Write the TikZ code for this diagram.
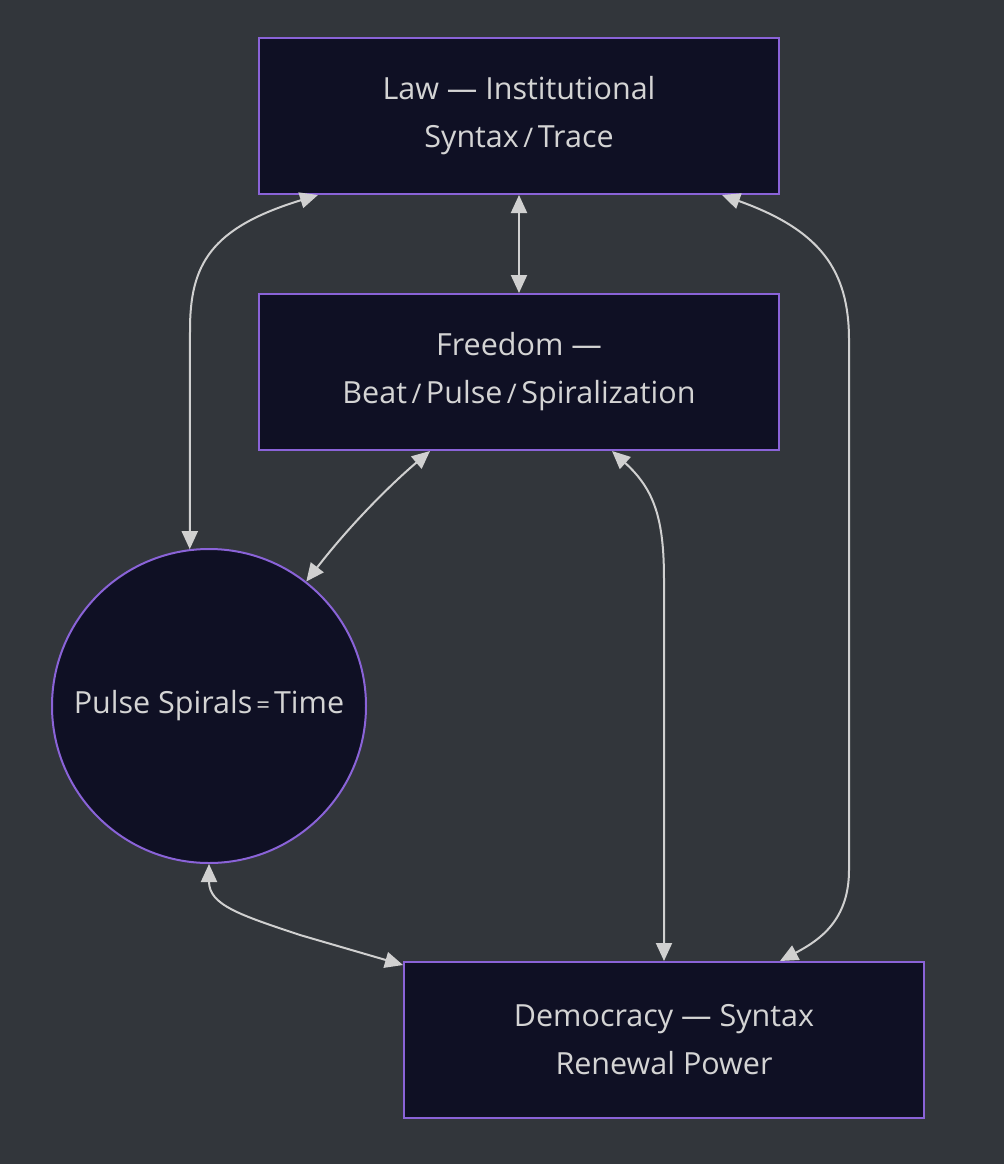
\documentclass[tikz,border=0pt]{standalone}
\usepackage{fontspec}
\setmainfont{Open Sans}
\usetikzlibrary{arrows.meta,positioning}

\definecolor{canvas}{HTML}{32363B}
\definecolor{boxfill}{HTML}{0F1024}
\definecolor{boxline}{HTML}{8A63D8}
\definecolor{linkline}{HTML}{D0D0D0}
\definecolor{labeltext}{HTML}{D4D4D4}

\newcommand{\thinslash}{{\fontsize{27}{27}\selectfont\,/\,}}
\newcommand{\thineq}{{\fontsize{24}{24}\selectfont\,=\,}}

\begin{document}
\begin{tikzpicture}[
    x=1pt, y=-1pt,
    font=\fontsize{30.5}{48}\selectfont,
    block/.style = {
      shape=rectangle,
      minimum width=520pt,
      minimum height=156pt,
      draw=boxline,
      fill=boxfill,
      line width=2pt,
      text=labeltext,
      align=center
    },
    hub/.style = {
      shape=circle,
      minimum size=314pt,
      inner sep=0pt,
      draw=boxline,
      fill=boxfill,
      line width=2pt,
      text=labeltext,
      align=center
    },
    link/.style = {
      draw=linkline,
      line width=2pt,
      {Triangle[length=18pt,width=16pt]}-{Triangle[length=18pt,width=16pt]}
    }
  ]

  % canvas
  \fill[canvas] (0,0) rectangle (1004,1164);
  \useasboundingbox (0,0) rectangle (1004,1164);

  % nodes
  \node[block] (law) at (519,116) {Law — Institutional\\Syntax\thinslash Trace};
  \node[block, below=98pt of law] (freedom) {Freedom —\\Beat\thinslash Pulse\thinslash Spiralization};
  \node[hub] (pulse) at (209,706) {Pulse Spirals\thineq Time};
  \node[block] (democracy) at (664,1040) {Democracy — Syntax\\Renewal Power};

  % links
  \draw[link] (law) -- (freedom);
  \draw[link] ([xshift=-201pt]law.south) .. controls (210,228) and (190,265) .. (190,330) -- (pulse.97);
  \draw[link] ([xshift=203pt]law.south) .. controls (820,230) and (849,270) .. (849,340)
    -- (849,870) .. controls (849,920) and (820,940) .. ([xshift=116pt]democracy.north);
  \draw[link] ([xshift=-89pt]freedom.south) .. controls (390,485) and (350,525) .. (pulse.52);
  \draw[link] ([xshift=93pt]freedom.south) .. controls (655,490) and (664,520) .. (664,580)
    -- (democracy.north);
  \draw[link] (pulse.south) .. controls (209,905) and (240,915) .. (300,935)
    -- ([yshift=-4pt]democracy.north west);

\end{tikzpicture}
\end{document}
